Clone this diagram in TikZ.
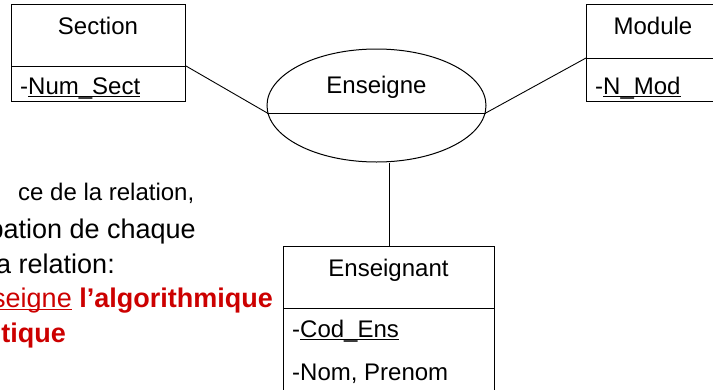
\documentclass[tikz,border=0pt]{standalone}
\usepackage{fontspec}
\setmainfont{Liberation Sans}
\usetikzlibrary{shapes.geometric}
\definecolor{slidered}{RGB}{204,0,0}
% underline drawn as a rule just under the baseline
\newcommand{\ulw}[1]{\setbox0\hbox{#1}\rlap{\rule[-3pt]{\wd0}{1.3pt}}\box0\relax}
\begin{document}
\begin{tikzpicture}[x=1pt,y=-1pt,
  entity/.style={draw=black, line width=1pt, rectangle, inner sep=0, anchor=north west},
  relation/.style={draw=black, line width=1pt, ellipse, inner sep=0},
  link/.style={draw=black, line width=0.9pt},
  lbl/.style={font=\fontsize{24}{28}\selectfont, inner sep=0},
  body/.style={font=\fontsize{27}{32}\selectfont, inner sep=0, anchor=base east}]
\useasboundingbox (0,0) rectangle (713,389);
\clip (0,0) rectangle (713,389);

% entities
\node[entity, minimum width=174pt, minimum height=97pt] (section) at (11,4) {};
\node[entity, minimum width=140pt, minimum height=97pt] (module) at (586,4) {};
\node[entity, minimum width=211pt, minimum height=170pt] (ens) at (283,246) {};
\draw[line width=1pt] (section.west |- 0,66) -- (section.east |- 0,66);
\draw[line width=1pt] (module.west |- 0,58) -- (module.east |- 0,58);
\draw[line width=1pt] (ens.west |- 0,308) -- (ens.east |- 0,308);

% relation
\node[relation, minimum width=219pt, minimum height=113pt] (rel) at (376.5,105.5) {};
\coordinate (relL) at (rel.184);
\coordinate (relR) at (rel.356);
\draw[line width=1pt] (relL) -- (relR);

% connectors
\coordinate (secJ) at (section.east |- 0,66);
\coordinate (modJ) at (module.west |- 0,58);
\draw[link] (secJ) -- (relL);
\draw[link] (modJ) -- (relR);
\draw[link] (ens.north) -- (ens.north |- rel.south);

% labels
\node[lbl, anchor=base] (secName) at (98,34) {Section};
\node[lbl, anchor=base west] (secKey) at (20,94) {-\ulw{Num\_Sect}};
\node[lbl, anchor=base] (modName) at (653,34) {Module};
\node[lbl, anchor=base west] (modKey) at (595,94) {-\ulw{N\_Mod}};
\node[lbl, anchor=base] (relName) at (376.5,93) {Enseigne};
\node[lbl, anchor=base] (ensName) at (388.5,276) {Enseignant};
\node[lbl, anchor=base west] (ensKey) at (292,337) {-\ulw{Cod\_Ens}};
\node[lbl, anchor=base west] (ensAttr) at (292,380) {-Nom, Prenom};

% running text
\node[body, anchor=base west, font=\fontsize{24}{28}\selectfont] (t1) at (18,200) {ce de la relation,};
\node[body] (t2) at (196,238) {pation de chaque};
\node[body] (t3) at (115,273) {a relation:};
\node[body, text=slidered] (t4) at (273,307) {\ulw{seigne} \textbf{l’algorithmique}};
\node[body, text=slidered] (t5) at (66,342) {\textbf{tique}};
\end{tikzpicture}
\end{document}
